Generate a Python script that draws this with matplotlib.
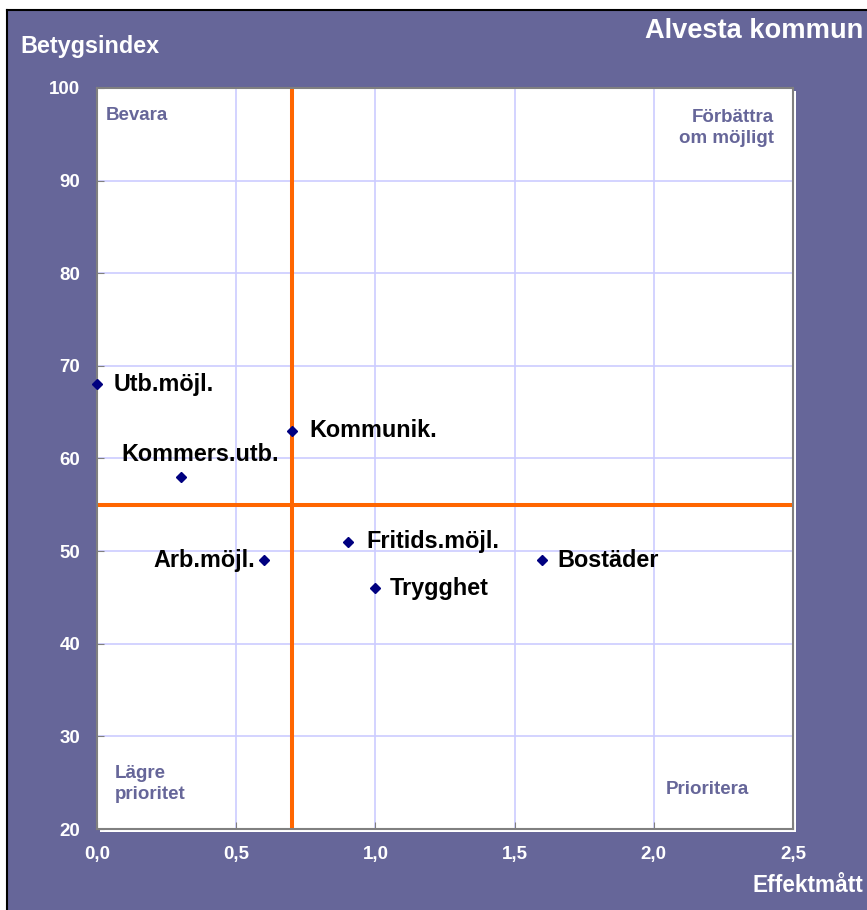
import matplotlib
matplotlib.use("Agg")
import matplotlib.pyplot as plt
from matplotlib.patches import Rectangle
from matplotlib.lines import Line2D

plt.rcParams['font.family'] = ['Liberation Sans', 'DejaVu Sans']
plt.rcParams['font.weight'] = 'bold'

# data
labels = ['Utb.möjl.', 'Kommunik.', 'Kommers.utb.', 'Arb.möjl.',
          'Fritids.möjl.', 'Trygghet', 'Bostäder']
effekt = [0.0, 0.7, 0.3, 0.6, 0.9, 1.0, 1.6]
betyg = [68, 63, 58, 49, 51, 46, 49]
x_split = 0.7
y_split = 55
xticks = [0.0, 0.5, 1.0, 1.5, 2.0, 2.5]
yticks = [20, 30, 40, 50, 60, 70, 80, 90, 100]

# label offsets in pixels (dx, dy, ha)
offs = [(17, 0, 'left'), (17, 0, 'left'), (20, 23, 'center'), (-9, 0, 'right'),
        (19, 0, 'left'), (14, 0, 'left'), (15, 0, 'left')]

purple = '#666699'
W, H = 867, 910
fig = plt.figure(figsize=(W / 100, H / 100), dpi=100, facecolor='white')

# purple background + black frame
fig.patches.append(Rectangle((8 / W, 0), 1, (H - 10) / H, transform=fig.transFigure,
                             facecolor=purple, edgecolor='none', zorder=0))
fig.lines.append(Line2D([7 / W, 1], [(H - 10) / H] * 2, transform=fig.transFigure,
                        color='black', lw=1.5))
fig.lines.append(Line2D([7 / W] * 2, [0, (H - 10) / H], transform=fig.transFigure,
                        color='black', lw=1.5))

l, r, t, b = 97, 793, 88, 829
ax = fig.add_axes([l / W, (H - b) / H, (r - l) / W, (b - t) / H])
ax.set_zorder(2)
# white shadow
fig.patches.append(Rectangle(((l + 3) / W, (H - b - 3) / H), (r - l) / W, (b - t) / H,
                             transform=fig.transFigure, facecolor='white',
                             edgecolor='none', zorder=0.5))
ax.set_facecolor('white')
ax.set_xlim(0, 2.5)
ax.set_ylim(20, 100)
ax.set_xticks(xticks)
ax.set_yticks(yticks)
ax.set_xticklabels([f'{v:.1f}'.replace('.', ',') for v in xticks])
ax.set_yticklabels([str(v) for v in yticks])
ax.grid(True, color='#ccccff', lw=1.2)
ax.set_axisbelow(True)
ax.tick_params(direction='in', length=5, color='#808080', labelcolor='white',
               labelsize=13.5, pad=12)
for s in ax.spines.values():
    s.set_color('#808080')
    s.set_linewidth(1.5)

ax.axvline(x_split, color='#ff6600', lw=2.9, zorder=2)
ax.axhline(y_split, color='#ff6600', lw=2.9, zorder=2)

ax.plot(effekt, betyg, linestyle='none', marker='D', ms=5.5, color='#000080',
        zorder=4, clip_on=False)
for lab, xv, yv, (dx, dy, ha) in zip(labels, effekt, betyg, offs):
    ax.annotate(lab, (xv, yv), xytext=(dx * 0.72, dy * 0.72), textcoords='offset points',
                ha=ha, va='center', fontsize=16.8, fontweight='bold', color='black',
                zorder=5)

# quadrant texts
qkw = dict(color=purple, fontsize=13.5, fontweight='bold', zorder=5)
fig.text(106 / W, 1 - 116 / H, 'Bevara', ha='left', va='center', **qkw)
fig.text(774 / W, 1 - 128 / H, 'Förbättra\nom möjligt', ha='right', va='center',
         multialignment='right', linespacing=1.35, **qkw)
fig.text(115 / W, 1 - 784 / H, 'Lägre\nprioritet', ha='left', va='center',
         linespacing=1.35, **qkw)
fig.text(666 / W, 1 - 789 / H, 'Prioritera', ha='left', va='center', **qkw)

# titles
fig.text(20 / W, 1 - 47 / H, 'Betygsindex', color='white', fontsize=16.8,
         fontweight='bold', ha='left', va='center')
fig.text(645 / W, 1 - 31 / H, 'Alvesta kommun', color='white', fontsize=19.6,
         fontweight='bold', ha='left', va='center')
fig.text(753 / W, 1 - 885 / H, 'Effektmått', color='white', fontsize=16.3,
         fontweight='bold', ha='left', va='center')

fig.savefig('out.png', dpi=100, facecolor='white')
